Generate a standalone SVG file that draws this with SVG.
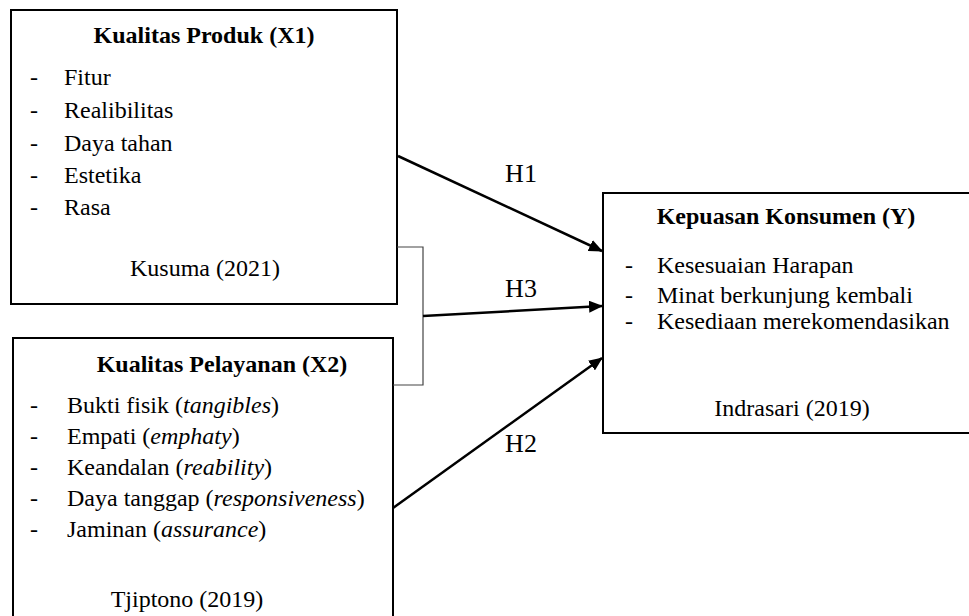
<svg xmlns="http://www.w3.org/2000/svg" width="969" height="616" viewBox="0 0 969 616">
<defs>
<marker id="arr" viewBox="0 0 14 12" refX="13" refY="6" markerWidth="14" markerHeight="12" markerUnits="userSpaceOnUse" orient="auto">
<path d="M0,0 L14,6 L0,12 Z" fill="#000"/>
</marker>
</defs>
<style>
.box{fill:#fff;stroke:#000;stroke-width:2}
text{font-family:'Liberation Serif','Times New Roman','DejaVu Serif',serif;font-size:24px;fill:#000}
.t{font-weight:bold}
.c{text-anchor:middle}
.h{font-size:26px}
.ln{stroke:#000;stroke-width:2.5;fill:none}
.br{stroke:#444;stroke-width:1.2;fill:none}
</style>
<rect width="969" height="616" fill="#fff"/>
<g id="x1">
<rect class="box" x="11" y="10" width="386" height="294"/>
<text class="t c" x="204" y="43">Kualitas Produk (X1)</text>
<text x="30" y="85">-</text><text x="64" y="85">Fitur</text>
<text x="30" y="118">-</text><text x="64" y="118">Realibilitas</text>
<text x="30" y="151">-</text><text x="64" y="151">Daya tahan</text>
<text x="30" y="183">-</text><text x="64" y="183">Estetika</text>
<text x="30" y="215">-</text><text x="64" y="215">Rasa</text>
<text class="c" x="205" y="276">Kusuma (2021)</text>
</g>
<g id="x2">
<rect class="box" x="13" y="338" width="380" height="290"/>
<text class="t c" x="222" y="372">Kualitas Pelayanan (X2)</text>
<text x="30" y="413">-</text><text x="67" y="413">Bukti fisik (<tspan font-style="italic">tangibles</tspan>)</text>
<text x="30" y="444">-</text><text x="67" y="444">Empati (<tspan font-style="italic">emphaty</tspan>)</text>
<text x="30" y="475">-</text><text x="67" y="475">Keandalan (<tspan font-style="italic">reability</tspan>)</text>
<text x="30" y="506">-</text><text x="67" y="506">Daya tanggap (<tspan font-style="italic">responsiveness</tspan>)</text>
<text x="30" y="537">-</text><text x="67" y="537">Jaminan (<tspan font-style="italic">assurance</tspan>)</text>
<text class="c" x="187" y="607">Tjiptono (2019)</text>
</g>
<g id="y">
<rect class="box" x="603" y="193" width="372" height="240"/>
<text class="t c" x="786" y="224">Kepuasan Konsumen (Y)</text>
<text x="625" y="273">-</text><text x="657" y="273">Kesesuaian Harapan</text>
<text x="625" y="303">-</text><text x="657" y="303">Minat berkunjung kembali</text>
<text x="625" y="329">-</text><text x="657" y="329">Kesediaan merekomendasikan</text>
<text class="c" x="792" y="416">Indrasari (2019)</text>
</g>
<g id="connectors">
<path class="br" d="M397,247 H423 V385 H393"/>
<line class="ln" x1="398" y1="156" x2="602" y2="251" marker-end="url(#arr)"/>
<line class="ln" x1="423" y1="316" x2="602" y2="306" marker-end="url(#arr)"/>
<line class="ln" x1="393" y1="508" x2="602" y2="358" marker-end="url(#arr)"/>
<text class="h c" x="521" y="182">H1</text>
<text class="h c" x="521" y="297">H3</text>
<text class="h c" x="521" y="452">H2</text>
</g>
</svg>
